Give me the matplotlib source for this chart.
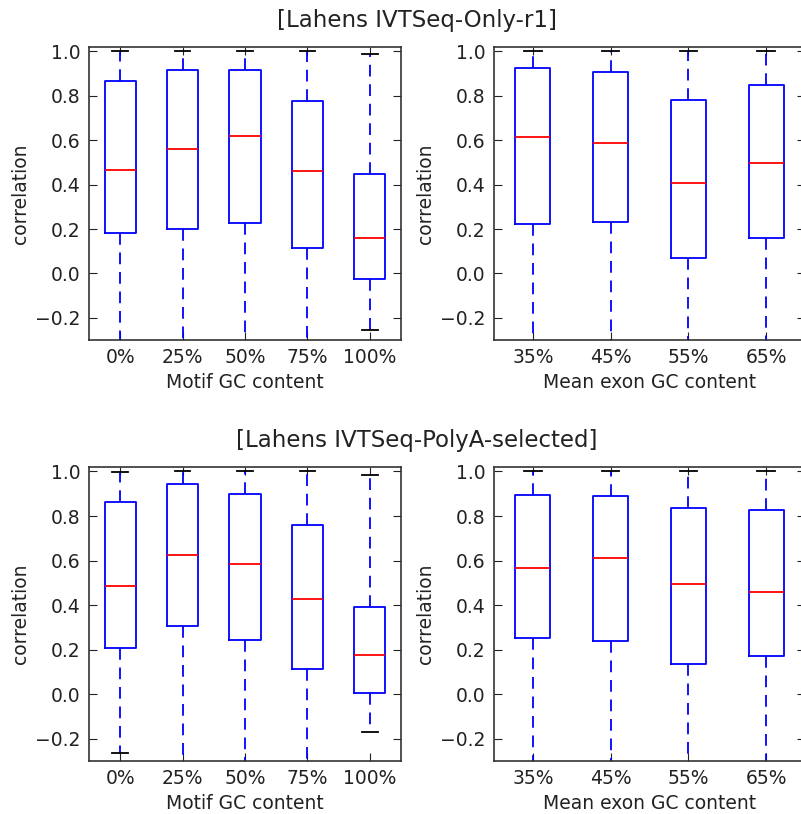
import matplotlib
matplotlib.use("Agg")
import matplotlib.pyplot as plt

# Category labels
motif_labels = ["0%", "25%", "50%", "75%", "100%"]
exon_labels = ["35%", "45%", "55%", "65%"]

# IVTSeq-Only-r1, by motif GC content
only_motif_med = [0.465, 0.559, 0.620, 0.460, 0.160]
only_motif_q1 = [0.181, 0.202, 0.229, 0.114, -0.024]
only_motif_q3 = [0.867, 0.915, 0.915, 0.777, 0.450]
only_motif_hi = [1.0, 1.0, 1.0, 1.0, 0.988]
only_motif_lo = [-0.5, -0.5, -0.5, -0.5, -0.257]

# IVTSeq-Only-r1, by mean exon GC content
only_exon_med = [0.614, 0.589, 0.408, 0.496]
only_exon_q1 = [0.223, 0.233, 0.069, 0.160]
only_exon_q3 = [0.925, 0.906, 0.780, 0.848]
only_exon_hi = [1.0, 1.0, 1.0, 1.0]
only_exon_lo = [-0.5, -0.5, -0.5, -0.5]

# IVTSeq-PolyA-selected, by motif GC content
polya_motif_med = [0.487, 0.626, 0.584, 0.429, 0.176]
polya_motif_q1 = [0.206, 0.305, 0.244, 0.115, 0.004]
polya_motif_q3 = [0.861, 0.943, 0.901, 0.761, 0.393]
polya_motif_hi = [0.996, 1.0, 1.0, 1.0, 0.982]
polya_motif_lo = [-0.263, -0.5, -0.5, -0.5, -0.170]

# IVTSeq-PolyA-selected, by mean exon GC content
polya_exon_med = [0.565, 0.613, 0.493, 0.457]
polya_exon_q1 = [0.254, 0.239, 0.135, 0.170]
polya_exon_q3 = [0.895, 0.889, 0.834, 0.825]
polya_exon_hi = [1.0, 1.0, 1.0, 1.0]
polya_exon_lo = [-0.5, -0.5, -0.5, -0.5]

FS = 13.5
W, H = 801, 814
fig = plt.figure(figsize=(W / 100, H / 100), dpi=100, facecolor="white")


def make_stats(med, q1, q3, lo, hi):
    return [dict(med=m, q1=a, q3=b, whislo=l, whishi=h, fliers=[])
            for m, a, b, l, h in zip(med, q1, q3, lo, hi)]


def box_panel(rect, stats, labels, xlabel):
    ax = fig.add_axes(rect)
    n = len(labels)
    width = min(0.15 * max(n - 1, 1.0), 0.5)
    ax.bxp(stats, positions=range(1, n + 1), widths=width, showfliers=False,
           boxprops=dict(color="#0000ff", linewidth=1.3),
           whiskerprops=dict(color="#0000ff", linewidth=1.3, linestyle=(0, (6.5, 4.3))),
           capprops=dict(color="black", linewidth=1.3),
           medianprops=dict(color="#ff0000", linewidth=1.3))
    ax.set_xlim(0.5, n + 0.5)
    ax.set_ylim(-0.3, 1.02)
    ax.set_yticks([-0.2, 0.0, 0.2, 0.4, 0.6, 0.8, 1.0])
    ax.set_xticks(range(1, n + 1))
    ax.set_xticklabels(labels)
    ax.tick_params(direction="in", top=True, right=True, length=5.5,
                   labelsize=FS, pad=6, colors="#222222")
    ax.set_xlabel(xlabel, fontsize=FS, labelpad=4, color="#222222")
    ax.set_ylabel("correlation", fontsize=FS, labelpad=4, color="#222222")
    for sp in ax.spines.values():
        sp.set_linewidth(1.2)
        sp.set_color("#333333")
    return ax


def rect(x0, y0, x1, y1):
    # pixel box (top-left origin) -> figure fraction
    return [x0 / W, 1 - y1 / H, (x1 - x0) / W, (y1 - y0) / H]


box_panel(rect(89, 47, 401, 340),
          make_stats(only_motif_med, only_motif_q1, only_motif_q3, only_motif_lo, only_motif_hi),
          motif_labels, "Motif GC content")
box_panel(rect(494, 47, 805, 340),
          make_stats(only_exon_med, only_exon_q1, only_exon_q3, only_exon_lo, only_exon_hi),
          exon_labels, "Mean exon GC content")
box_panel(rect(89, 467, 401, 761),
          make_stats(polya_motif_med, polya_motif_q1, polya_motif_q3, polya_motif_lo, polya_motif_hi),
          motif_labels, "Motif GC content")
box_panel(rect(494, 467, 805, 761),
          make_stats(polya_exon_med, polya_exon_q1, polya_exon_q3, polya_exon_lo, polya_exon_hi),
          exon_labels, "Mean exon GC content")

fig.text(417 / W, 1 - 21 / H, "[Lahens IVTSeq-Only-r1]", ha="center", va="center",
         fontsize=16.5, color="#222222")
fig.text(417 / W, 1 - 441 / H, "[Lahens IVTSeq-PolyA-selected]", ha="center", va="center",
         fontsize=16.5, color="#222222")

fig.savefig("out.png", dpi=100, facecolor="white")
